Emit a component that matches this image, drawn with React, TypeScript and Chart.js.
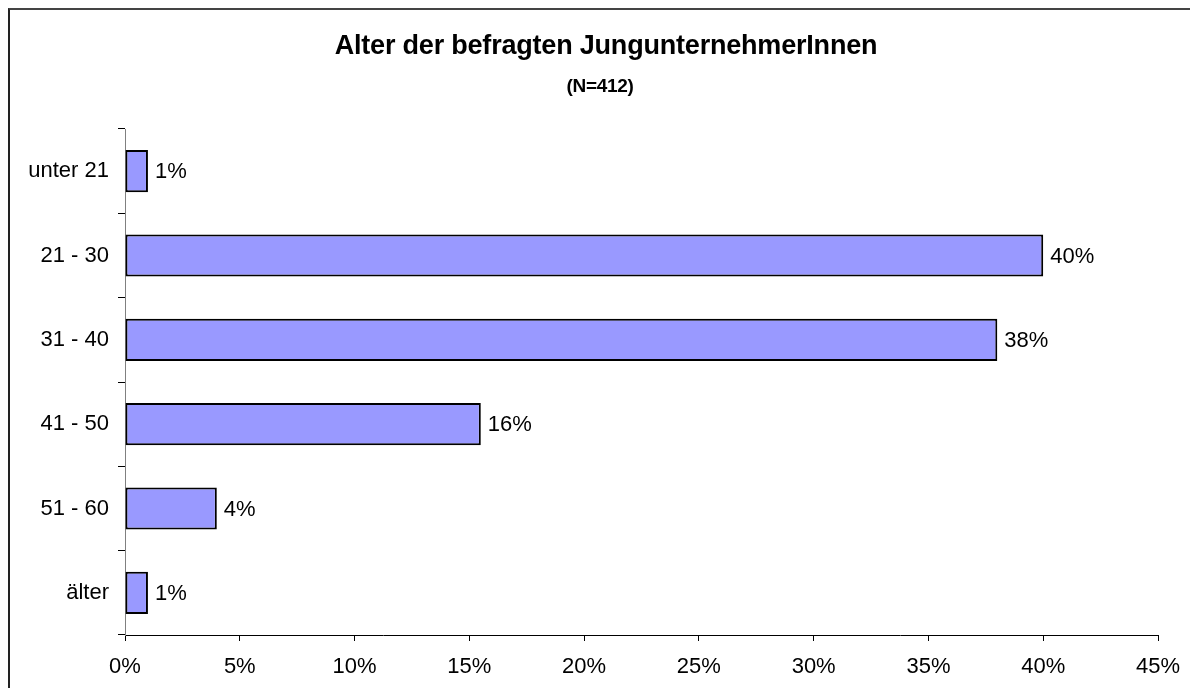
import React, { useEffect, useRef } from "react";
import { Chart, registerables } from "chart.js";

Chart.register(...registerables);

const categories = ["unter 21", "21 - 30", "31 - 40", "41 - 50", "51 - 60", "älter"];
const shares = [1, 40, 38, 15.5, 4, 1];
const xTicksMax = 45;
const xTickStep = 5;
const titleText = "Alter der befragten JungunternehmerInnen";
const subtitleText = "(N=412)";

const FONT = "'Liberation Sans', Arial, sans-serif";

const W = 1188;
const H = 678;

const titlePlugin = {
  id: "customTitle",
  afterDraw(chart: any) {
    const ctx = chart.ctx as CanvasRenderingContext2D;
    ctx.save();
    ctx.fillStyle = "#000";
    ctx.textAlign = "center";
    ctx.textBaseline = "alphabetic";
    (ctx as any).letterSpacing = "-0.2px";
    ctx.font = `bold 27px ${FONT}`;
    ctx.fillText(titleText, 596, 44);
    (ctx as any).letterSpacing = "-0.3px";
    ctx.font = `bold 19px ${FONT}`;
    ctx.fillText(subtitleText, 590, 82);
    ctx.restore();
  },
};

const valueLabelPlugin = {
  id: "valueLabels",
  afterDatasetsDraw(chart: any) {
    const ctx = chart.ctx as CanvasRenderingContext2D;
    const meta = chart.getDatasetMeta(0);
    ctx.save();
    ctx.fillStyle = "#000";
    ctx.font = `22px ${FONT}`;
    ctx.textAlign = "left";
    ctx.textBaseline = "middle";
    meta.data.forEach((el: any, i: number) => {
      const v = shares[i];
      ctx.fillText(`${Math.round(v)}%`, el.x + 7, el.y + 1);
    });
    ctx.restore();
  },
};

export default function App() {
  const ref = useRef<HTMLCanvasElement | null>(null);

  useEffect(() => {
    if (!ref.current) return;
    const chart = new Chart(ref.current, {
      type: "bar",
      data: {
        labels: categories,
        datasets: [
          {
            data: shares,
            backgroundColor: "#9999FF",
            borderColor: "#000000",
            borderWidth: 2,
            borderSkipped: false,
            barPercentage: 0.5,
            categoryPercentage: 1,
          },
        ],
      },
      options: {
        indexAxis: "y",
        animation: false,
        responsive: false,
        devicePixelRatio: 1,
        layout: { padding: { top: 119, right: 40, left: 0, bottom: 0 } },
        plugins: {
          legend: { display: false },
          title: { display: false },
          tooltip: { enabled: false },
        },
        scales: {
          x: {
            type: "linear",
            min: 0,
            max: xTicksMax,
            ticks: {
              stepSize: xTickStep,
              color: "#000",
              font: { family: FONT, size: 22 },
              padding: 13,
              callback: (v: any) => `${v}%`,
            },
            grid: {
              display: true,
              drawOnChartArea: false,
              drawTicks: true,
              tickLength: 6,
              color: "#000",
            },
            border: { display: true, color: "#000" },
            afterFit: (s: any) => {
              s.height = 53;
            },
          },
          y: {
            ticks: {
              color: "#000",
              font: { family: FONT, size: 22 },
              padding: 9,
            },
            grid: {
              display: true,
              drawOnChartArea: false,
              drawTicks: true,
              tickLength: 7,
              color: "#000",
              offset: true,
            },
            border: { display: true, color: "#808080" },
            afterFit: (s: any) => {
              s.width = 115;
            },
          },
        },
      },
      plugins: [titlePlugin, valueLabelPlugin],
    } as any);
    return () => chart.destroy();
  }, []);

  return (
    <div
      style={{
        width: 1190,
        height: 680,
        borderLeft: "2px solid #222",
        borderTop: "2px solid #444",
        boxSizing: "border-box",
        overflow: "hidden",
        background: "#fff",
      }}
    >
      <canvas ref={ref} width={W} height={H} style={{ display: "block", width: W, height: H }} />
    </div>
  );
}
